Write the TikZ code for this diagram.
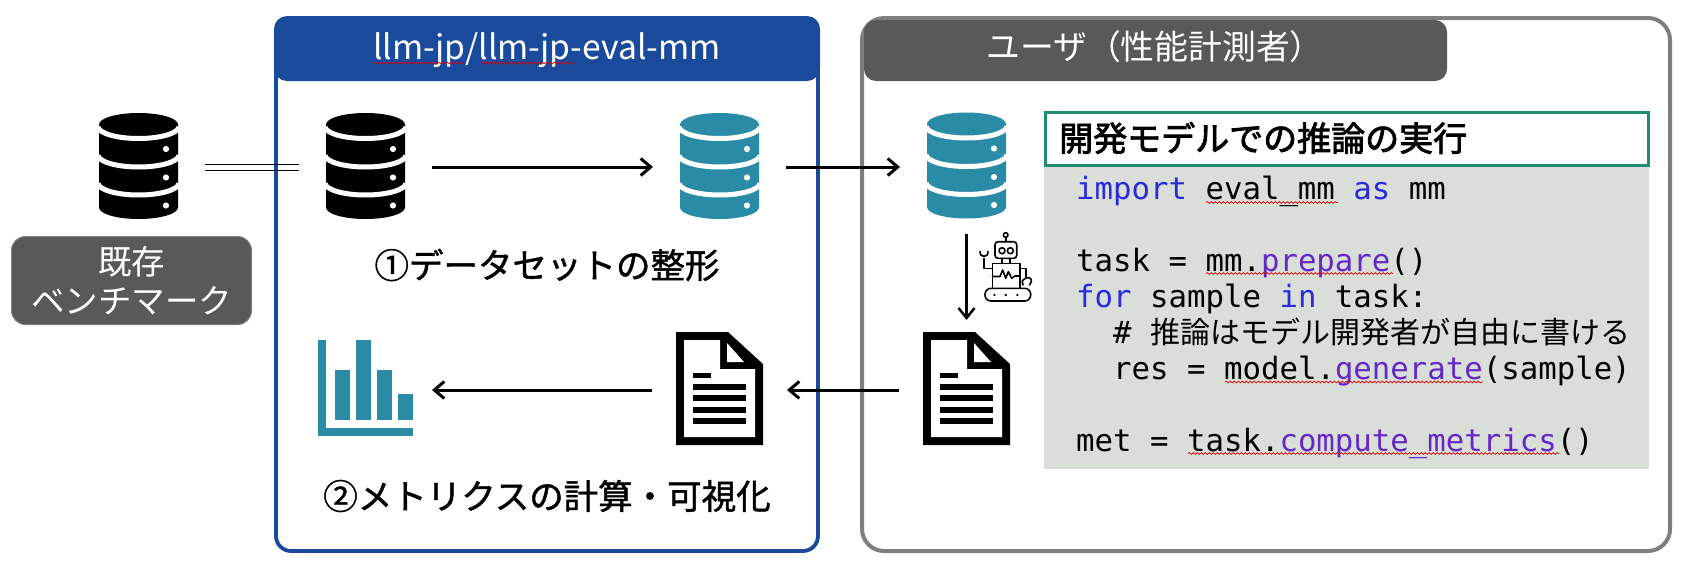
\documentclass[tikz,border=0pt]{standalone}
\usepackage{fontspec}
\usetikzlibrary{arrows.meta,decorations.pathmorphing}
\newfontfamily\jpfont{Noto Sans CJK JP}
\newfontfamily\jpmed[FakeBold=1.3]{Noto Sans CJK JP}
\newfontfamily\jpbold[FakeBold=2.4]{Noto Sans CJK JP}
\newfontfamily\codefont{DejaVu Sans Mono}
\definecolor{teal1}{HTML}{2A8BA6}
\definecolor{blue1}{HTML}{1A4A9C}
\definecolor{gray1}{HTML}{595959}
\definecolor{gray2}{HTML}{7F7F7F}
\definecolor{green1}{HTML}{218B73}
\definecolor{codebg}{HTML}{D9DED8}
\definecolor{kw}{HTML}{2A2ADC}
\definecolor{fn}{HTML}{6428C8}
\newcommand{\DbIcon}[2]{%
  \begin{scope}[shift={#1}]
    \fill[#2] (0,11.5) .. controls (0,5.15) and (17.7,0) .. (39.5,0)
      .. controls (61.3,0) and (79,5.15) .. (79,11.5) -- (79,94.5)
      .. controls (79,100.85) and (61.3,106) .. (39.5,106)
      .. controls (17.7,106) and (0,100.85) .. (0,94.5) -- cycle;
    \foreach \yy in {14,42.5,70.5}{
      \draw[white,line width=5pt] (-1,\yy) .. controls (0,\yy+6.35) and (17.7,\yy+11.5) .. (39.5,\yy+11.5)
        .. controls (61.3,\yy+11.5) and (79,\yy+6.35) .. (80,\yy);
    }
    \foreach \yy in {36,64.5,92.5}{ \fill[white] (67,\yy) circle[radius=3.1pt]; }
  \end{scope}}
\newcommand{\DocIcon}[1]{%
  \begin{scope}[shift={#1}]
    \fill[black] (0,0) -- (52,0) -- (87,32) -- (87,113) -- (0,113) -- cycle;
    \fill[white] (8,8) -- (44,8) -- (44,37) -- (79,37) -- (79,105) -- (8,105) -- cycle;
    \fill[white] (51,11) -- (68,30) -- (51,30) -- cycle;
    \fill[black] (17,41) rectangle (35,46);
    \foreach \yy in {52,63,75,86}{ \fill[black] (17,\yy) rectangle (70,\yy+5.8); }
  \end{scope}}
\tikzset{
  x=1pt,y=-1pt,
  dbnode/.style={inner sep=0pt,minimum width=79pt,minimum height=106pt,outer xsep=27pt,outer ysep=14pt},
  docnode/.style={inner sep=0pt,minimum width=87pt,minimum height=113pt,outer xsep=24pt,outer ysep=13.5pt},
  chartnode/.style={inner sep=0pt,minimum width=95pt,minimum height=96pt,outer xsep=19pt},
  flow/.style={-{Straight Barb[length=10pt,width=17pt]},line width=3pt},
  flowthin/.style={-{Straight Barb[length=10pt,width=16pt]},line width=2.5pt},
  plainlabel/.style={inner sep=0pt,font=\jpmed\fontsize{34.5}{40}\selectfont},
  whitelabel/.style={inner sep=0pt,text=white,font=\jpfont\fontsize{33.5}{39.5}\selectfont,align=center},
  codeline/.style={inner sep=0pt,anchor=base west,font=\codefont\fontsize{30.7}{36}\selectfont},
  squiggle/.style={red!85!black,line width=0.7pt,decorate,decoration={snake,segment length=4pt,amplitude=0.9pt}},
  robotline/.style={line width=1.6pt,black,line join=round,line cap=round},
}
\begin{document}
\begin{tikzpicture}
\useasboundingbox (0,0) rectangle (1690,562);
\fill[white] (0,0) rectangle (1690,562);

% blue frame
\draw[blue1,line width=3.8pt,rounded corners=15pt] (276,18) rectangle (818,551);
\fill[blue1,rounded corners=13pt] (274,16) rectangle (820,81);
\node[inner sep=0pt,text=white,font=\jpfont\fontsize{33.7}{38}\selectfont] (bluehead) at (547,50) {llm-jp/llm-jp-eval-mm};
\draw[squiggle] (374,63) -- (464,63);
\draw[squiggle] (481,63) -- (574,63);

% grey frame
\draw[gray2,line width=4pt,rounded corners=22pt] (862,18) rectangle (1670,551);
\fill[gray1,rounded corners=12pt] (864,20) rectangle (1447,81);
\node[whitelabel,font=\jpfont\fontsize{33.8}{39.5}\selectfont] (grayhead) at (1155,47) {ユーザ（性能計測者）};

% left label
\node[draw=gray2,line width=1pt,fill=gray1,rounded corners=14pt,minimum width=240pt,minimum height=88pt,inner sep=0pt,whitelabel] (kison) at (131.5,280.5) {既存\\ベンチマーク};

% icons: anchor nodes
\node[dbnode] (db1) at (138.5,167) {};
\node[dbnode] (db2) at (365.5,167) {};
\node[dbnode] (db3) at (719.5,167) {};
\node[dbnode] (db4) at (966.5,167) {};
\node[docnode] (doc1) at (719.5,390) {};
\node[docnode] (doc2) at (966.5,390) {};
\node[chartnode] (chart) at (365.5,390) {};

\DbIcon{(99,113)}{black}
\DbIcon{(326,113)}{black}
\DbIcon{(680,113)}{teal1}
\DbIcon{(927,112.5)}{teal1}
\DocIcon{(676,332)}
\DocIcon{(923,332)}

% chart
\fill[teal1] (318,340) rectangle (326,436);
\fill[teal1] (318,427.5) rectangle (413,436);
\fill[teal1] (335,370) rectangle (350,419.5);
\fill[teal1] (356,340) rectangle (371,419.5);
\fill[teal1] (377,370) rectangle (392,419.5);
\fill[teal1] (398,394) rectangle (413,419.5);

% connectors
\draw[line width=1pt] ([yshift=3pt]db1.east) -- ([yshift=3pt]db2.west);
\draw[line width=1pt] ([yshift=-3.5pt]db1.east) -- ([yshift=-3.5pt]db2.west);
\draw[flow] (db2.east) -- (db3.west);
\draw[flow] (db3.east) -- (db4.west);
\draw[flowthin] (db4.south) -- (doc2.north);
\draw[flow] (doc2.west) -- (doc1.east);
\draw[flow] (doc1.west) -- (chart.east);

% labels
\node[plainlabel] (step1) at (547,265) {①データセットの整形};
\node[plainlabel] (step2) at (547,496) {②メトリクスの計算・可視化};

% robot
\begin{scope}[robotline]
  \draw (1005.7,235) circle[radius=2.3pt];
  \draw (1005.7,237.3) -- (1005.7,241.7);
  \draw[rounded corners=3pt] (995,241.7) rectangle (1016.7,258.3);
  \draw (1002,250.7) circle[radius=3pt];
  \draw (1010.3,250.7) circle[radius=3pt];
  \draw (1001.7,258.3) -- (1001.7,263.3);
  \draw (1010,258.3) -- (1010,263.3);
  \draw (992.3,263.3) rectangle (1020,288.3);
  \draw (992.3,276.5) -- (1000,276.5) -- (1002.7,270) -- (1005.7,278.3) -- (1008.3,271.7) -- (1011.7,278.3) -- (1015,276) -- (1020,276);
  \draw[rounded corners=6pt] (985,288.3) rectangle (1030.7,301);
  \fill (994.3,295) circle[radius=1.3pt] (1005.7,295) circle[radius=1.3pt] (1017.3,295) circle[radius=1.3pt];
  \draw (992.3,268.3) -- (984,268.3) -- (984,258.5);
  \draw (980,251.5) .. controls (979.5,258) and (988.5,258) .. (988,251.5);
  \draw (1020,268.3) -- (1025.7,268.3) -- (1025.7,278.3);
  \draw (1029.5,285) .. controls (1034,280.5) and (1030,275.5) .. (1025.7,278.3) .. controls (1021.5,280) and (1021.5,283) .. (1023,285);
\end{scope}

% code panel
\fill[codebg] (1044,167) rectangle (1649,469);
\node[draw=green1,line width=3pt,fill=white,minimum width=603pt,minimum height=53pt,inner sep=0pt] (codetitlebox) at (1347,139) {};
\node[inner sep=0pt,anchor=west,font=\jpbold\fontsize{34}{40}\selectfont] (codetitle) at (1059,138) {開発モデルでの推論の実行};

\node[codeline] (c1) at (1076,199) {\textcolor{kw}{import} eval\_mm \textcolor{kw}{as} mm};
\node[codeline] (c2) at (1076,271) {task = mm.\textcolor{fn}{prepare}()};
\node[codeline] (c3) at (1076,307) {\textcolor{kw}{for} sample \textcolor{kw}{in} task:};
\node[codeline] (c4) at (1113,343) {\# {\jpfont\fontsize{30}{36}\selectfont 推論はモデル開発者が自由に書ける}};
\node[codeline] (c5) at (1113,379) {res = model.\textcolor{fn}{generate}(sample)};
\node[codeline] (c6) at (1076,451) {met = task.\textcolor{fn}{compute\_metrics}()};
\draw[squiggle] (1206,202.5) -- (1338,202.5);
\draw[squiggle] (1206,273.5) -- (1393,273.5);
\draw[squiggle] (1225,382) -- (1483,382);
\draw[squiggle] (1188,453.5) -- (1559,453.5);
\end{tikzpicture}
\end{document}
